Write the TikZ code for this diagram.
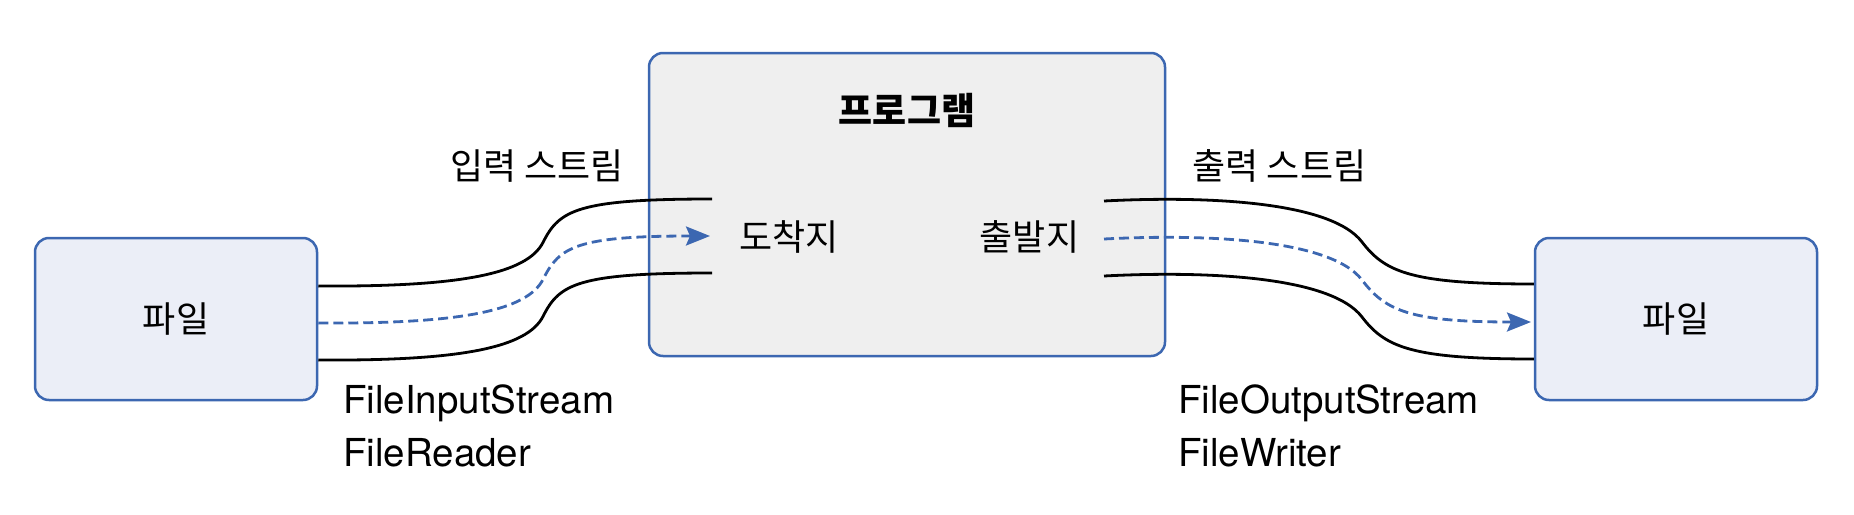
\documentclass[tikz,border=0pt]{standalone}
\usepackage{fontspec}
\setmainfont{TeX Gyre Heros}
\newfontfamily\kr{Noto Sans CJK KR}
\usetikzlibrary{arrows.meta,calc}
\definecolor{bordblue}{HTML}{3C67B1}
\definecolor{filefill}{HTML}{EBEEF7}
\definecolor{progfill}{HTML}{EFEFEF}
\newcommand\drawinstream[3]{%
  \draw[#1] (#2) .. controls +(142,1) and +(-16,32) .. ($(#2)+(225,-44)$)
    .. controls +(16,-32) and +(-134,0) .. (#3);}
\newcommand\drawoutstream[3]{%
  \draw[#1] (#2) .. controls +(96,-5) and +(-32,-42) .. ($(#2)+(258,41)$)
    .. controls +(23,30) and +(-123,0) .. (#3);}
\begin{document}
\begin{tikzpicture}[x=1pt,y=-1pt,
  box/.style={draw=bordblue, line width=2.5pt, rounded corners=14pt, inner sep=0pt},
  filebox/.style={box, fill=filefill, minimum width=282pt, minimum height=162pt},
  progbox/.style={box, fill=progfill, minimum width=516pt, minimum height=303pt},
  krtext/.style={font=\kr\fontsize{36}{42}\selectfont, inner sep=0pt},
  latin/.style={font=\fontsize{38.5}{46}\selectfont, inner sep=0pt, anchor=base west},
  stream/.style={line width=2.8pt, black},
  flow/.style={line width=2.8pt, bordblue, dash pattern=on 10pt off 5pt,
    -{Stealth[length=24pt, width=19pt, inset=4pt]}}
]
\useasboundingbox (0,0) rectangle (1854,514);

\node[filebox] (leftfile) at (176,319) {};
\node[filebox] (rightfile) at (1676,319) {};
\node[progbox] (prog) at (907,204.5) {};

\node[krtext] (lfl) at (leftfile.center) {파일};
\node[krtext] (rfl) at (rightfile.center) {파일};
\node[krtext, font=\kr\bfseries\fontsize{37}{42}\selectfont] (title) at (907,110) {프로그램};
\node[krtext] (dest) at (789,237) {도착지};
\node[krtext] (src) at (1029.5,237) {출발지};
\node[krtext] (instr) at (537,166) {입력 스트림};
\node[krtext] (outstr) at (1279.5,166) {출력 스트림};

\node[latin] (fis) at (343,413) {FileInputStream};
\node[latin] (fr) at (343,466) {FileReader};
\node[latin] (fos) at (1178,413) {FileOutputStream};
\node[latin] (fw) at (1178,466) {FileWriter};

% input stream (left)
\coordinate (inA1) at (leftfile.east |- 0,286);
\coordinate (inB1) at (712,199);
\coordinate (inA2) at (leftfile.east |- 0,323);
\coordinate (inB2) at (710,236);
\coordinate (inA3) at (leftfile.east |- 0,360);
\coordinate (inB3) at (712,273);
\drawinstream{stream}{inA1}{inB1}
\drawinstream{stream}{inA3}{inB3}
\drawinstream{flow}{inA2}{inB2}

% output stream (right)
\coordinate (outA1) at (1104,201);
\coordinate (outB1) at (rightfile.west |- 0,284);
\coordinate (outA2) at (1104,239);
\coordinate (outB2) at (1531,322);
\coordinate (outA3) at (1104,276);
\coordinate (outB3) at (rightfile.west |- 0,359);
\drawoutstream{stream}{outA1}{outB1}
\drawoutstream{stream}{outA3}{outB3}
\drawoutstream{flow}{outA2}{outB2}
\end{tikzpicture}
\end{document}
